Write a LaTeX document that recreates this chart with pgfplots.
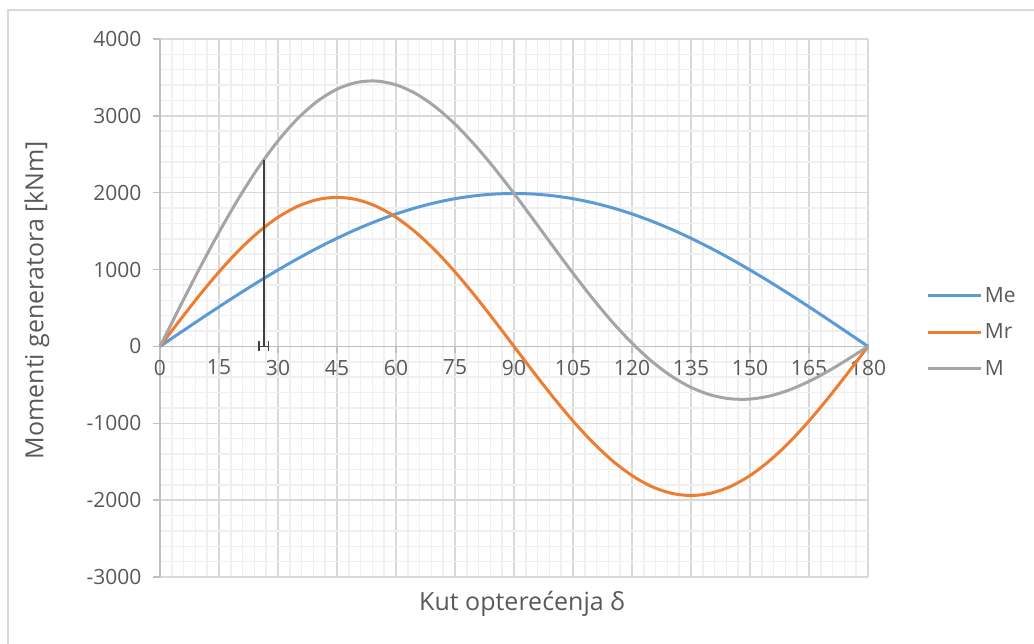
\documentclass[border=0pt]{standalone}
\usepackage{pgfplots}
\pgfplotsset{compat=1.18}
\usepackage{fontspec}
\setmainfont{Open Sans}
\definecolor{cMe}{HTML}{5B9BD5}
\definecolor{cMr}{HTML}{ED7D31}
\definecolor{cM}{HTML}{A5A5A5}
\definecolor{txt}{HTML}{595959}
\definecolor{majg}{HTML}{D9D9D9}
\definecolor{ming}{HTML}{F0F0F0}
\definecolor{axg}{HTML}{BFBFBF}
\definecolor{vline}{HTML}{404040}
\begin{document}
\begin{tikzpicture}
\begin{axis}[
  name=ax,
  scale only axis,
  width=708pt, height=538pt,
  xmin=0, xmax=180, ymin=-3000, ymax=4000,
  axis x line=middle, axis y line=left,
  hide obscured x ticks=false, hide obscured y ticks=false,
  axis line style={draw=axg, line width=1.5pt, -},
  xtick={0,15,...,180}, ytick={-3000,-2000,...,4000},
  minor x tick num=4, minor y tick num=4,
  grid=both,
  major grid style={draw=majg, line width=1.5pt},
  minor grid style={draw=ming, line width=1.5pt},
  major tick length=7pt, minor tick length=0pt,
  xtick style={draw=axg, line width=1.5pt},
  ytick style={draw=axg, line width=1.5pt},
  tick align=outside,
  /pgf/number format/assume math mode=true,
  /pgf/number format/1000 sep={},
  ticklabel style={font=\fontsize{21}{24}\selectfont, text=txt},
  xticklabel style={yshift=-3pt},
  yticklabel style={xshift=-8pt},
  clip=false,
  legend style={at={(axis description cs:1.083,0.455)}, anchor=west, draw=none, fill=none,
    font=\fontsize{21}{24}\selectfont, text=txt, row sep=16pt, inner sep=0pt},
  legend cell align=left,
  legend image code/.code={\draw[#1, line width=3pt] (0pt,0pt) -- (53pt,0pt);},
]
\addplot[cMe, line width=3pt, smooth] coordinates {
(0,0)(5,173.4)(10,345.6)(15,515.1)(20,680.6)(25,841.0)(30,995.0)(35,1141.4)(40,1279.2)(45,1407.1)
(50,1524.4)(55,1630.1)(60,1723.4)(65,1803.6)(70,1870.0)(75,1922.2)(80,1959.8)(85,1982.4)(90,1990)
(95,1982.4)(100,1959.8)(105,1922.2)(110,1870.0)(115,1803.6)(120,1723.4)(125,1630.1)(130,1524.4)
(135,1407.1)(140,1279.2)(145,1141.4)(150,995.0)(155,841.0)(160,680.6)(165,515.1)(170,345.6)(175,173.4)(180,0)};
\addlegendentry{Me}
\addplot[cMr, line width=3pt, smooth] coordinates {
(0,0)(5,336.9)(10,663.5)(15,970)(20,1247.0)(25,1486.1)(30,1680.1)(35,1823.0)(40,1910.5)(45,1940)
(50,1910.5)(55,1823.0)(60,1680.1)(65,1486.1)(70,1247.0)(75,970)(80,663.5)(85,336.9)(90,0)
(95,-336.9)(100,-663.5)(105,-970)(110,-1247.0)(115,-1486.1)(120,-1680.1)(125,-1823.0)(130,-1910.5)
(135,-1940)(140,-1910.5)(145,-1823.0)(150,-1680.1)(155,-1486.1)(160,-1247.0)(165,-970)(170,-663.5)(175,-336.9)(180,0)};
\addlegendentry{Mr}
\addplot[cM, line width=3pt, smooth] coordinates {
(0,0)(5,510.3)(10,1009.1)(15,1485.1)(20,1927.6)(25,2327.1)(30,2675.1)(35,2964.4)(40,3189.7)(45,3347.1)
(50,3434.9)(55,3453.1)(60,3403.5)(65,3289.7)(70,3117.0)(75,2892.2)(80,2623.3)(85,2319.3)(90,1990)
(95,1645.5)(100,1296.3)(105,952.2)(110,623.0)(115,317.5)(120,43.3)(125,-192.9)(130,-386.1)
(135,-532.9)(140,-631.3)(145,-681.6)(150,-685.1)(155,-645.1)(160,-566.4)(165,-454.9)(170,-317.9)(175,-163.5)(180,0)};
\addlegendentry{M}
\addplot[vline, line width=1.5pt, forget plot] coordinates {(26.5,0)(26.5,2430)};
\addplot[vline, line width=1.5pt, forget plot] coordinates {(25.2,0)(27.6,0)};
\addplot[vline, line width=1.5pt, forget plot] coordinates {(25.2,-65)(25.2,65)};
\addplot[vline, line width=1.5pt, forget plot] coordinates {(27.6,-65)(27.6,65)};
\end{axis}
\path[use as bounding box] ([shift={(-160pt,-67pt)}]ax.south west) rectangle ([shift={(874pt,577pt)}]ax.south west);
\draw[majg, line width=1.5pt] ([shift={(-152pt,-67pt)}]ax.south west) -- ([shift={(-152pt,567pt)}]ax.south west) -- ([shift={(874pt,567pt)}]ax.south west);
\node[rotate=90, text=txt, font=\fontsize{25}{28}\selectfont] at ([shift={(-123pt,277pt)}]ax.south west) {Momenti generatora [kNm]};
\node[text=txt, font=\fontsize{25}{28}\selectfont] at ([shift={(362pt,-27pt)}]ax.south west) {Kut opterećenja δ};
\end{tikzpicture}
\end{document}
